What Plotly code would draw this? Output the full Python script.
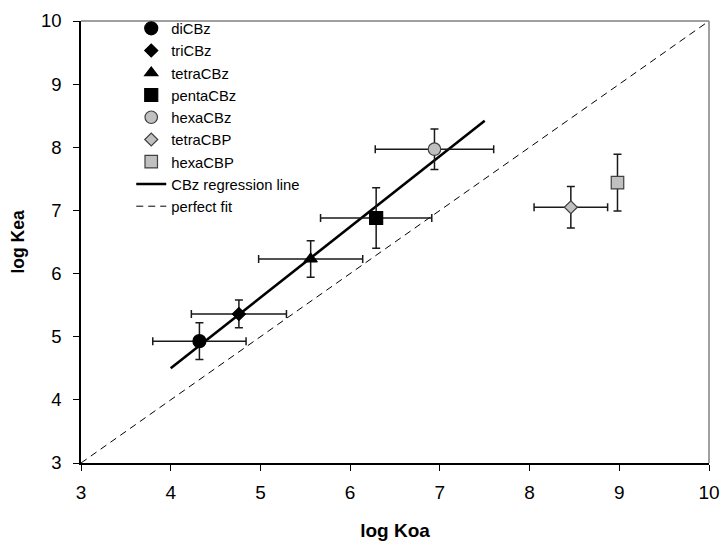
import plotly.graph_objects as go

compounds = ["diCBz", "triCBz", "tetraCBz", "pentaCBz", "hexaCBz", "tetraCBP", "hexaCBP"]
log_koa = [4.32, 4.76, 5.56, 6.29, 6.94, 8.46, 8.98]
log_koa_err = [0.52, 0.53, 0.58, 0.62, 0.66, 0.41, 0.0]
log_kea = [4.93, 5.36, 6.23, 6.88, 7.97, 7.05, 7.44]
log_kea_err = [0.29, 0.22, 0.29, 0.48, 0.32, 0.33, 0.45]

symbols = ["circle", "diamond", "triangle-up", "square", "circle", "diamond", "square"]
sizes = [13, 10, 11.5, 13, 12.5, 10, 12.5]
fills = ["black", "black", "black", "black", "#c0c0c0", "#c0c0c0", "#c0c0c0"]
edges = ["black", "black", "black", "black", "#404040", "#404040", "#404040"]

reg_x = [4.0, 7.5]
reg_y = [4.50, 8.42]
fit_x = [3, 10]
fit_y = [3, 10]

FONT = "Liberation Sans, Arial, sans-serif"

fig = go.Figure()

fig.add_trace(go.Scatter(
    x=fit_x, y=fit_y, mode="lines", name="perfect fit",
    line=dict(color="black", width=1, dash="7px,5px"), legendrank=1100,
))
fig.add_trace(go.Scatter(
    x=reg_x, y=reg_y, mode="lines", name="CBz regression line",
    line=dict(color="black", width=2.6), legendrank=1090,
))

for i, name in enumerate(compounds):
    ex = log_koa_err[i]
    fig.add_trace(go.Scatter(
        x=[log_koa[i]], y=[log_kea[i]], mode="markers", name=name,
        legendrank=1000 + i,
        marker=dict(symbol=symbols[i], size=sizes[i], color=fills[i],
                    line=dict(color=edges[i], width=1.2)),
        error_x=dict(type="data", array=[ex], visible=ex > 0,
                     color="#1a1a1a", thickness=1.5, width=4),
        error_y=dict(type="data", array=[log_kea_err[i]], visible=True,
                     color="#1a1a1a", thickness=1.5, width=4),
    ))

fig.update_layout(
    width=721, height=543,
    margin=dict(l=81, r=12, t=16, b=80),
    paper_bgcolor="white", plot_bgcolor="white",
    font=dict(family=FONT, size=18, color="black"),
    showlegend=True,
    legend=dict(x=0.08, y=1.02, xanchor="left", yanchor="top",
                bgcolor="rgba(0,0,0,0)", font=dict(size=14.8, family=FONT),
                tracegroupgap=0, traceorder="normal"),
    xaxis=dict(range=[3, 10], dtick=1, showgrid=False, zeroline=False,
               automargin=False,
               showline=True, linecolor="black", linewidth=1.5,
               ticks="outside", ticklen=6, tickcolor="black", tickwidth=1.2,
               tickfont=dict(size=19), ticklabelstandoff=5,
               title=dict(text="<b>log Koa</b>", font=dict(size=19), standoff=22)),
    yaxis=dict(range=[3, 10], dtick=1, showgrid=False, zeroline=False,
               automargin=False,
               showline=True, linecolor="black", linewidth=1.5,
               ticks="outside", ticklen=6, tickcolor="black", tickwidth=1.2,
               tickfont=dict(size=18.5), ticklabelstandoff=8,
               title=dict(text="<b>log Kea</b>", font=dict(size=17.5), standoff=12)),
    shapes=[
        dict(type="line", xref="paper", yref="paper", x0=0, x1=1, y0=1, y1=1,
             line=dict(color="#808080", width=1.5)),
        dict(type="line", xref="paper", yref="paper", x0=1, x1=1, y0=0, y1=1,
             line=dict(color="#808080", width=1.5)),
    ],
)

fig.write_html("out.html")
